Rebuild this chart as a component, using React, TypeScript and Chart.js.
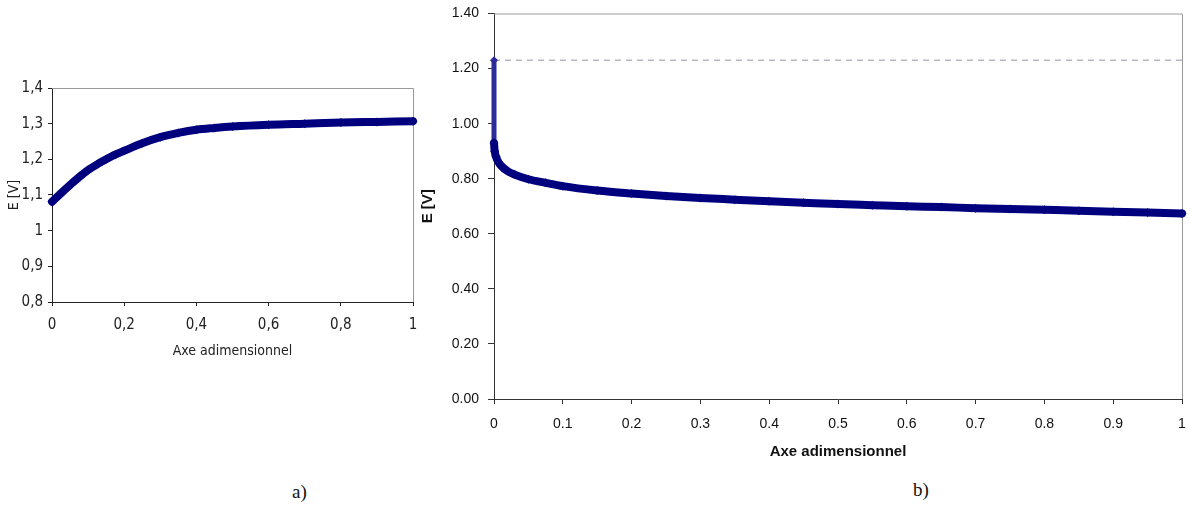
import React, { useEffect, useRef } from 'react';
import { Chart, registerables } from 'chart.js';

Chart.register(...registerables);

// ---- Chart a) ----
const leftX = [0, 0.025, 0.05, 0.075, 0.1, 0.125, 0.15, 0.175, 0.2, 0.25, 0.3, 0.35, 0.4, 0.45, 0.5, 0.6, 0.7, 0.8, 0.9, 1];
const leftE = [1.081, 1.105, 1.128, 1.15, 1.17, 1.186, 1.2, 1.213, 1.224, 1.245, 1.262, 1.274, 1.283, 1.288, 1.292, 1.297, 1.3, 1.303, 1.305, 1.307];
const leftXTickValues = [0, 0.2, 0.4, 0.6, 0.8, 1];
const leftXTickLabels = ['0', '0,2', '0,4', '0,6', '0,8', '1'];
const leftYTickValues = [0.8, 0.9, 1, 1.1, 1.2, 1.3, 1.4];
const leftYTickLabels = ['0,8', '0,9', '1', '1,1', '1,2', '1,3', '1,4'];

// ---- Chart b) ----
const rightX = [0, 0.001, 0.003, 0.006, 0.01, 0.02, 0.03, 0.05, 0.075, 0.1, 0.15, 0.2, 0.25, 0.3, 0.35, 0.4, 0.45, 0.5, 0.55, 0.6, 0.65, 0.7, 0.75, 0.8, 0.85, 0.9, 0.95, 1];
const rightE = [0.93, 0.9, 0.88, 0.862, 0.848, 0.827, 0.815, 0.798, 0.785, 0.773, 0.757, 0.746, 0.737, 0.73, 0.724, 0.718, 0.713, 0.708, 0.704, 0.7, 0.697, 0.693, 0.69, 0.687, 0.684, 0.68, 0.677, 0.674];
const jumpX = [0, 0];
const jumpE = [1.23, 0.93];
const refX = [0, 1];
const refE = [1.23, 1.23];
const rightXTickValues = [0, 0.1, 0.2, 0.3, 0.4, 0.5, 0.6, 0.7, 0.8, 0.9, 1];
const rightXTickLabels = ['0', '0.1', '0.2', '0.3', '0.4', '0.5', '0.6', '0.7', '0.8', '0.9', '1'];
const rightYTickValues = [0, 0.2, 0.4, 0.6, 0.8, 1.0, 1.2, 1.4];
const rightYTickLabels = ['0.00', '0.20', '0.40', '0.60', '0.80', '1.00', '1.20', '1.40'];

const NAVY = '#00007f';

const framePlugin = {
  id: 'frame',
  beforeDatasetsDraw(chart: any) {
    const { ctx, chartArea } = chart;
    ctx.save();
    ctx.strokeStyle = '#9a9a9a';
    ctx.lineWidth = 1;
    ctx.beginPath();
    ctx.moveTo(chartArea.left, chartArea.top + 0.5);
    ctx.lineTo(chartArea.right + 0.5, chartArea.top + 0.5);
    ctx.lineTo(chartArea.right + 0.5, chartArea.bottom);
    ctx.stroke();
    ctx.restore();
  },
};

function pts(xs: number[], ys: number[]) {
  return xs.map((x, i) => ({ x, y: ys[i] }));
}

function setTicks(values: number[]) {
  return (scale: any) => {
    scale.ticks = values.map((v) => ({ value: v }));
  };
}

function labelFrom(values: number[], labels: string[]) {
  return (v: any) => {
    const i = values.findIndex((t) => Math.abs(t - Number(v)) < 1e-9);
    return i >= 0 ? labels[i] : '';
  };
}

function fixHeight(h: number) {
  return (s: any) => {
    s.height = h;
    s.paddingLeft = 0;
    s.paddingRight = 0;
  };
}

function fixWidth(w: number) {
  return (s: any) => {
    s.width = w;
    s.paddingTop = 0;
    s.paddingBottom = 0;
  };
}

const NARROW = '"Liberation Sans Narrow", "DejaVu Sans Condensed", "Arial Narrow", sans-serif';
const SANS = '"Liberation Sans", Arial, sans-serif';

export default function App() {
  const leftRef = useRef<HTMLCanvasElement>(null);
  const rightRef = useRef<HTMLCanvasElement>(null);

  useEffect(() => {
    const left = new Chart(leftRef.current as HTMLCanvasElement, {
      type: 'line',
      data: {
        datasets: [
          {
            data: pts(leftX, leftE),
            borderColor: NAVY,
            backgroundColor: NAVY,
            borderWidth: 8,
            borderCapStyle: 'round',
            cubicInterpolationMode: 'monotone',
            pointStyle: 'rectRot',
            pointRadius: 4.5,
            pointBorderWidth: 0,
            clip: false,
          } as any,
        ],
      },
      options: {
        animation: false,
        responsive: false,
        parsing: false as any,
        layout: { padding: { left: 0, top: 28, right: 17, bottom: 0 } },
        plugins: { legend: { display: false }, tooltip: { enabled: false } },
        scales: {
          x: {
            type: 'linear',
            min: 0,
            max: 1,
            afterBuildTicks: setTicks(leftXTickValues),
            afterFit: fixHeight(68),
            grid: { drawOnChartArea: false, drawTicks: true, tickLength: 4, color: '#222' },
            border: { color: '#222', width: 1 },
            ticks: {
              callback: labelFrom(leftXTickValues, leftXTickLabels),
              color: '#222',
              font: { family: NARROW, size: 15 },
              padding: 10,
              maxRotation: 0,
            },
            title: {
              display: true,
              text: 'Axe adimensionnel',
              color: '#222',
              font: { family: NARROW, size: 14 },
              padding: { top: 0, bottom: 10 },
            },
          },
          y: {
            type: 'linear',
            min: 0.8,
            max: 1.4,
            afterBuildTicks: setTicks(leftYTickValues),
            afterFit: fixWidth(52),
            grid: { drawOnChartArea: false, drawTicks: true, tickLength: 4, color: '#222' },
            border: { color: '#222', width: 1 },
            ticks: {
              callback: labelFrom(leftYTickValues, leftYTickLabels),
              color: '#222',
              font: { family: NARROW, size: 15 },
              padding: 5,
            },
            title: {
              display: true,
              text: 'E [V]',
              color: '#222',
              font: { family: NARROW, size: 14 },
              padding: { top: 6, bottom: 0 },
            },
          },
        },
      },
      plugins: [framePlugin],
    } as any);

    const right = new Chart(rightRef.current as HTMLCanvasElement, {
      type: 'line',
      data: {
        datasets: [
          {
            data: pts(rightX, rightE),
            borderColor: NAVY,
            backgroundColor: NAVY,
            borderWidth: 8,
            borderCapStyle: 'round',
            cubicInterpolationMode: 'monotone',
            pointStyle: 'rectRot',
            pointRadius: 4.5,
            pointBorderWidth: 0,
            clip: false,
            order: 1,
          },
          {
            data: pts(jumpX, jumpE),
            borderColor: '#2b2b9c',
            backgroundColor: '#2b2b9c',
            borderWidth: 5,
            pointStyle: 'rectRot',
            pointRadius: 4,
            pointBorderWidth: 0,
            clip: false,
            order: 2,
          },
          {
            data: pts(refX, refE),
            borderColor: '#b8b8c0',
            borderWidth: 1.5,
            borderDash: [6, 5],
            pointRadius: 0,
            order: 3,
          },
        ] as any,
      },
      options: {
        animation: false,
        responsive: false,
        parsing: false as any,
        layout: { padding: { left: 0, top: 13.5, right: 6, bottom: 0 } },
        plugins: { legend: { display: false }, tooltip: { enabled: false } },
        scales: {
          x: {
            type: 'linear',
            min: 0,
            max: 1,
            afterBuildTicks: setTicks(rightXTickValues),
            afterFit: fixHeight(71),
            grid: { drawOnChartArea: false, drawTicks: true, tickLength: 5, color: '#333' },
            border: { color: '#333', width: 1 },
            ticks: {
              callback: labelFrom(rightXTickValues, rightXTickLabels),
              color: '#111',
              font: { family: SANS, size: 14 },
              padding: 12,
              maxRotation: 0,
            },
            title: {
              display: true,
              text: 'Axe adimensionnel',
              color: '#111',
              font: { family: SANS, size: 15, weight: 'bold' },
              padding: { top: 0, bottom: 9 },
            },
          },
          y: {
            type: 'linear',
            min: 0,
            max: 1.4,
            afterBuildTicks: setTicks(rightYTickValues),
            afterFit: fixWidth(84),
            grid: { drawOnChartArea: false, drawTicks: true, tickLength: 6, color: '#333' },
            border: { color: '#333', width: 1 },
            ticks: {
              callback: labelFrom(rightYTickValues, rightYTickLabels),
              color: '#111',
              font: { family: SANS, size: 14 },
              padding: 9,
            },
            title: {
              display: true,
              text: 'E [V]',
              color: '#111',
              font: { family: SANS, size: 15, weight: 'bold' },
              padding: { top: 9, bottom: 0 },
            },
          },
        },
      },
      plugins: [framePlugin],
    } as any);

    return () => {
      left.destroy();
      right.destroy();
    };
  }, []);

  const capStyle: React.CSSProperties = {
    position: 'absolute',
    fontFamily: '"Liberation Serif", "Times New Roman", serif',
    fontSize: 19,
    lineHeight: '22px',
    color: '#111',
  };

  return (
    <div style={{ position: 'fixed', left: 0, top: 0, width: 1188, height: 507, background: '#fff', overflow: 'hidden' }}>
      <canvas ref={leftRef} width={430} height={310} style={{ position: 'absolute', left: 0, top: 60 }} />
      <canvas ref={rightRef} width={778} height={470} style={{ position: 'absolute', left: 410, top: 0 }} />
      <div style={{ ...capStyle, left: 292, top: 481 }}>a)</div>
      <div style={{ ...capStyle, left: 913, top: 479 }}>b)</div>
    </div>
  );
}
